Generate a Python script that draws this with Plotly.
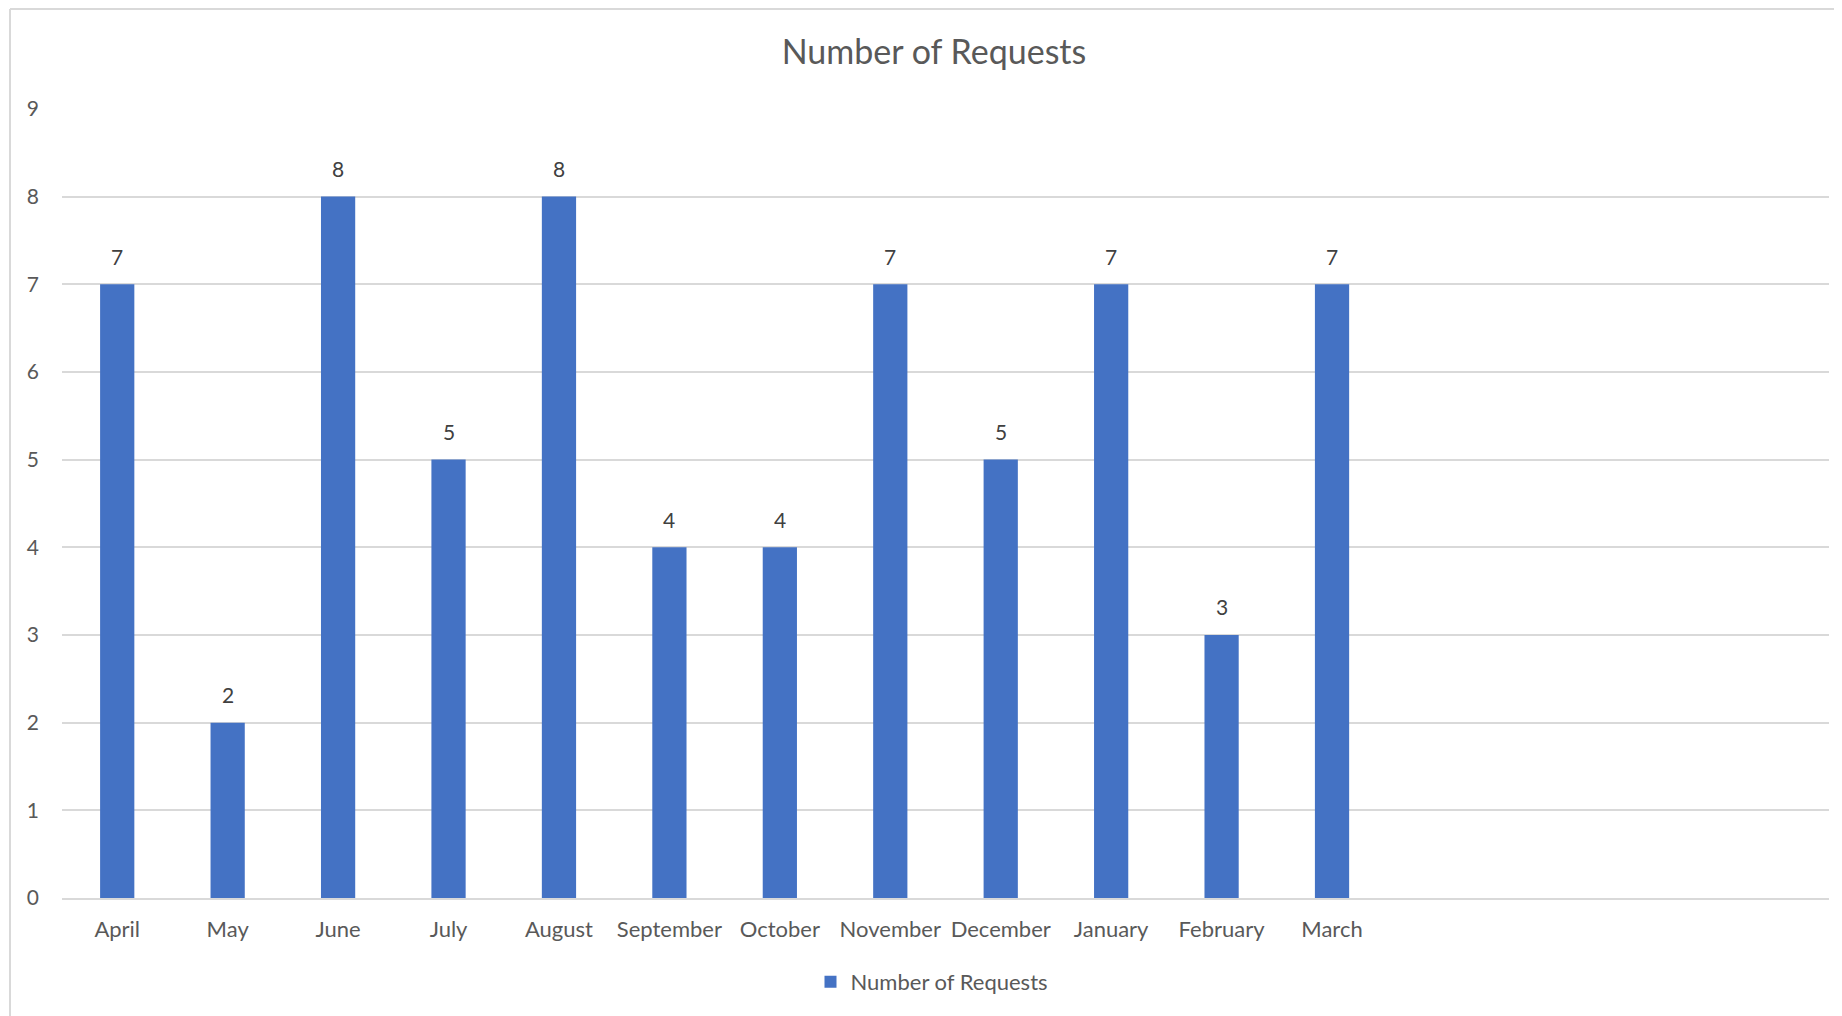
import plotly.graph_objects as go

# Data
months = ["April", "May", "June", "July", "August", "September", "October",
          "November", "December", "January", "February", "March"]
requests = [7, 2, 8, 5, 8, 4, 4, 7, 5, 7, 3, 7]

# page body has an 8px margin, so the figure is sized a bit smaller
W, H = 1834, 1008
ML, MR, MT, MB = 54, 13, 100, 118
pw = W - ML - MR
ph = H - MT - MB

grey_text = "#595959"
grid = "#D9D9D9"

fig = go.Figure()

fig.add_trace(go.Bar(
    x=months,
    y=requests,
    name="Number of Requests",
    marker=dict(color="#4472C4", line=dict(width=0)),
    width=0.31,
    hoverinfo="x+y",
))

# data labels above the bars
for m, v in zip(months, requests):
    fig.add_annotation(x=m, y=v, text=str(v), showarrow=False,
                       yanchor="middle", yshift=28,
                       font=dict(size=21, color="#404040"))

# chart area border (top and left edges only are visible)
top_y = (H - MB - 1) / ph
left_x = (2 - ML) / pw
fig.add_shape(type="line", xref="paper", yref="paper",
              x0=left_x, x1=1.1, y0=top_y, y1=top_y,
              line=dict(color=grid, width=2))
fig.add_shape(type="line", xref="paper", yref="paper",
              x0=left_x, x1=left_x, y0=-0.2, y1=top_y,
              line=dict(color=grid, width=2))

fig.update_layout(
    width=W, height=H,
    margin=dict(l=ML, r=MR, t=MT, b=MB),
    plot_bgcolor="white",
    paper_bgcolor="white",
    font=dict(family="Lato", color=grey_text),
    title=dict(text="Number of Requests", x=926 / W, y=1 - 44 / H,
               xanchor="center", yanchor="middle",
               font=dict(size=34, color=grey_text)),
    showlegend=True,
    legend=dict(orientation="h", x=(924 - ML) / pw, y=(H - MB - 974) / ph,
                xanchor="center", yanchor="middle",
                font=dict(size=22, color=grey_text)),
)

fig.update_xaxes(
    type="category",
    range=[-0.5, 15.5],
    showgrid=False,
    showline=True, linecolor=grid, linewidth=2,
    ticks="",
    tickfont=dict(size=22, color=grey_text),
    ticklabelstandoff=11,
)
fig.update_yaxes(
    range=[0, 9.01],
    tickvals=list(range(10)),
    showgrid=True, gridcolor=grid, gridwidth=2,
    zeroline=False,
    showline=False,
    ticks="",
    tickfont=dict(size=21, color=grey_text),
    ticklabelstandoff=22,
)

fig.write_html("out.html")
